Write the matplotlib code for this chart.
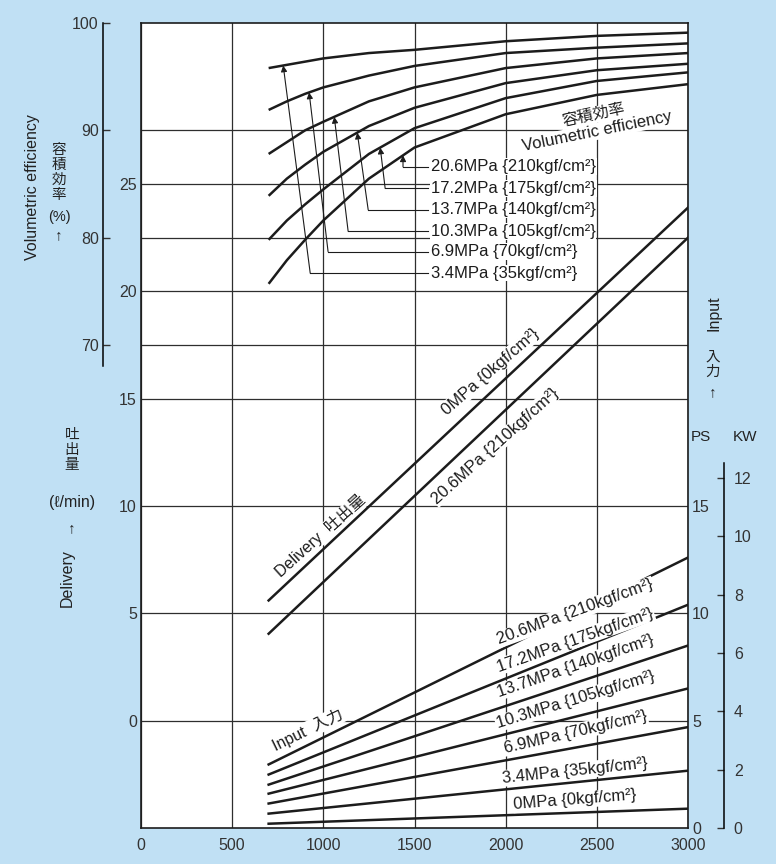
import numpy as np
import matplotlib
matplotlib.use("Agg")
import matplotlib.pyplot as plt

plt.rcParams["font.family"] = ["Liberation Sans", "Noto Sans CJK JP", "DejaVu Sans"]

BG = "#c0e0f4"
INK = "#1c1c1c"
GRID = "#2e2e2e"

# ── data ──
rpm_ticks = [0, 500, 1000, 1500, 2000, 2500, 3000]

# volumetric efficiency (%) read at these speeds
ve_rpm = [700, 800, 900, 1000, 1250, 1500, 2000, 2500, 3000]
ve_3_4 = [95.8, 96.1, 96.4, 96.7, 97.2, 97.5, 98.3, 98.8, 99.1]
ve_6_9 = [91.9, 92.7, 93.4, 94.0, 95.1, 96.0, 97.2, 97.7, 98.1]
ve_10_3 = [87.8, 88.9, 90.0, 90.8, 92.7, 94.0, 95.8, 96.7, 97.2]
ve_13_7 = [83.9, 85.5, 86.8, 88.0, 90.4, 92.1, 94.4, 95.6, 96.2]
ve_17_2 = [79.8, 81.6, 83.1, 84.5, 87.8, 90.2, 93.0, 94.6, 95.4]
ve_20_6 = [75.7, 77.9, 79.8, 81.6, 85.5, 88.4, 91.5, 93.3, 94.3]

# delivery (l/min) and input (PS): straight lines, ends read at 700 / 3000 rpm
line_rpm = [700, 3000]
delivery_0 = [5.6, 23.9]
delivery_20_6 = [4.05, 22.5]

input_20_6 = [2.96, 12.6]
input_17_2 = [2.49, 10.4]
input_13_7 = [2.02, 8.5]
input_10_3 = [1.60, 6.5]
input_6_9 = [1.14, 4.7]
input_3_4 = [0.67, 2.67]
input_0 = [0.20, 0.9]

ve_labels = ["20.6MPa {210kgf/cm²}", "17.2MPa {175kgf/cm²}", "13.7MPa {140kgf/cm²}",
             "10.3MPa {105kgf/cm²}", "6.9MPa {70kgf/cm²}", "3.4MPa {35kgf/cm²}"]
input_labels = ve_labels + ["0MPa {0kgf/cm²}"]


def fx(x):
    return x / 776


def fy(y):
    return 1 - y / 864


fig = plt.figure(figsize=(7.76, 8.64), dpi=100, facecolor=BG)
L, R, T, B = 141, 688, 23, 828
ax = fig.add_axes([fx(L), fy(B), (R - L) / 776, (B - T) / 864])
ax.set_facecolor("white")
ax.set_xlim(0, 3000)
ax.set_ylim(-5, 32.5)
ax.set_xticks(rpm_ticks)
ax.set_yticks([0, 5, 10, 15, 20, 25])
ax.set_yticks([17.5, 22.5, 27.5], minor=True)
ax.grid(which="both", color=GRID, lw=0.9)
ax.tick_params(which="both", length=0, labelsize=11.5, colors="#333")
ax.tick_params(axis="x", pad=7)
ax.tick_params(axis="y", pad=3)
for s in ax.spines.values():
    s.set_linewidth(1.2)
    s.set_color(INK)

# volumetric efficiency axis (left, offset)
ax_ve = ax.twinx()
ax_ve.set_ylim(25, 100)
ax_ve.yaxis.set_ticks_position("left")
for k in ["right", "top", "bottom"]:
    ax_ve.spines[k].set_visible(False)
ax_ve.spines["left"].set_position(("outward", 27.4))
ax_ve.spines["left"].set_bounds(68, 100)
ax_ve.spines["left"].set_linewidth(1.1)
ax_ve.set_yticks([70, 80, 90, 100])
ax_ve.tick_params(axis="y", direction="in", length=5, width=1, labelsize=11.5, colors="#333", pad=3)

# input PS axis (right edge)
ax_ps = ax.twinx()
ax_ps.set_ylim(0, 37.5)
for s in ax_ps.spines.values():
    s.set_visible(False)
ax_ps.set_yticks([0, 5, 10, 15])
ax_ps.tick_params(axis="y", length=0, labelsize=11.5, colors="#333", pad=3)

# input KW axis (right, offset)
ax_kw = ax.twinx()
ax_kw.set_ylim(0, 37.5 * 0.7355)
for k in ["left", "top", "bottom"]:
    ax_kw.spines[k].set_visible(False)
ax_kw.spines["right"].set_position(("outward", 26))
ax_kw.spines["right"].set_bounds(0, 12.5)
ax_kw.spines["right"].set_linewidth(1.1)
ax_kw.set_yticks([0, 2, 4, 6, 8, 10, 12])
ax_kw.tick_params(axis="y", direction="in", length=5, width=1, labelsize=11.5, colors="#333", pad=7)

box = dict(facecolor="white", edgecolor="none", pad=0.6)

# ── volumetric efficiency curves ──
ve_curves = [ve_20_6, ve_17_2, ve_13_7, ve_10_3, ve_6_9, ve_3_4]
for c in ve_curves:
    ax_ve.plot(ve_rpm, c, color=INK, lw=1.8, solid_capstyle="butt")

tip_rpm = [1437, 1312, 1186, 1060, 922, 780]
corner_rpm = [1437, 1339, 1246, 1136, 1026, 928]
label_ve = [86.6, 84.6, 82.6, 80.6, 78.7, 76.7]
for c, lab, tr, cr, lv in zip(ve_curves, ve_labels, tip_rpm, corner_rpm, label_ve):
    tv = np.interp(tr, ve_rpm, c)
    ax_ve.plot([cr, 1575], [lv, lv], color=INK, lw=0.8)
    ax_ve.annotate("", xy=(tr, tv), xytext=(cr, lv),
                   arrowprops=dict(arrowstyle="-|>", lw=0.8, color=INK,
                                   mutation_scale=9, shrinkA=0, shrinkB=0))
    ax_ve.text(1590, lv, lab, ha="left", va="center", fontsize=12, color=INK, bbox=box)

ax_ve.text(2480, 91.4, "容積効率", rotation=12, ha="center", va="center",
           fontsize=11.5, color=INK, bbox=box, rotation_mode="anchor")
ax_ve.text(2503, 89.9, "Volumetric efficiency", rotation=11.5, ha="center", va="center",
           fontsize=12, color=INK, bbox=box, rotation_mode="anchor")

# ── delivery lines ──
ax.plot(line_rpm, delivery_0, color=INK, lw=1.8)
ax.plot(line_rpm, delivery_20_6, color=INK, lw=1.8)
ax.text(1916, 16.25, "0MPa {0kgf/cm²}", rotation=41, ha="center", va="center",
        fontsize=12, color=INK, bbox=box, rotation_mode="anchor")
ax.text(1943, 12.8, "20.6MPa {210kgf/cm²}", rotation=42, ha="center", va="center",
        fontsize=12, color=INK, bbox=box, rotation_mode="anchor")
ax.text(985, 8.6, "Delivery  吐出量", rotation=42, ha="center", va="center",
        fontsize=11.5, color=INK, bbox=box, rotation_mode="anchor")

# ── input lines ──
input_lines = [input_20_6, input_17_2, input_13_7, input_10_3, input_6_9, input_3_4, input_0]
label_ps = [10.06, 8.76, 7.55, 5.96, 4.47, 2.66, 1.30]
label_rot = [20, 19.5, 19, 17, 13, 6, 4.5]
for ln, lab, lp, rot in zip(input_lines, input_labels, label_ps, label_rot):
    ax_ps.plot(line_rpm, ln, color=INK, lw=1.8)
    ax_ps.text(2382, lp, lab, rotation=rot, ha="center", va="center",
               fontsize=12, color=INK, bbox=box, rotation_mode="anchor")
ax_ps.text(917, 4.57, "Input  入力", rotation=26, ha="center", va="center",
           fontsize=11.5, color=INK, bbox=box, rotation_mode="anchor")

# ── axis titles ──
tcol = "#222"
fig.text(fx(33), fy(187), "Volumetric efficiency", rotation=90, ha="center", va="center",
         fontsize=11.5, color=tcol)
fig.text(fx(59), fy(143), "容\n積\n効\n率", ha="center", va="top", fontsize=10.5,
         linespacing=1.1, color=tcol)
fig.text(fx(59), fy(217), "(%)", ha="center", va="center", fontsize=10.5, color=tcol)
fig.text(fx(59), fy(235), "↑", ha="center", va="center", fontsize=11, color=tcol)

fig.text(fx(72), fy(428), "吐\n出\n量", ha="center", va="top", fontsize=10.5,
         linespacing=1.1, color=tcol)
fig.text(fx(72), fy(503), "(ℓ/min)", ha="center", va="center", fontsize=11.5, color=tcol)
fig.text(fx(72), fy(528), "↑", ha="center", va="center", fontsize=11, color=tcol)
fig.text(fx(67), fy(578), "Delivery", rotation=90, ha="center", va="center",
         fontsize=11.5, color=tcol)

fig.text(fx(714), fy(313), "Input", rotation=90, ha="center", va="center",
         fontsize=11.5, color=tcol)
fig.text(fx(713), fy(350), "入\n力", ha="center", va="top", fontsize=10.5,
         linespacing=1.1, color=tcol)
fig.text(fx(713), fy(392), "↑", ha="center", va="center", fontsize=11, color=tcol)
fig.text(fx(701), fy(437), "PS", ha="center", va="center", fontsize=11, color=tcol)
fig.text(fx(745), fy(437), "KW", ha="center", va="center", fontsize=11, color=tcol)

fig.savefig("out.png", dpi=100, facecolor=BG)
